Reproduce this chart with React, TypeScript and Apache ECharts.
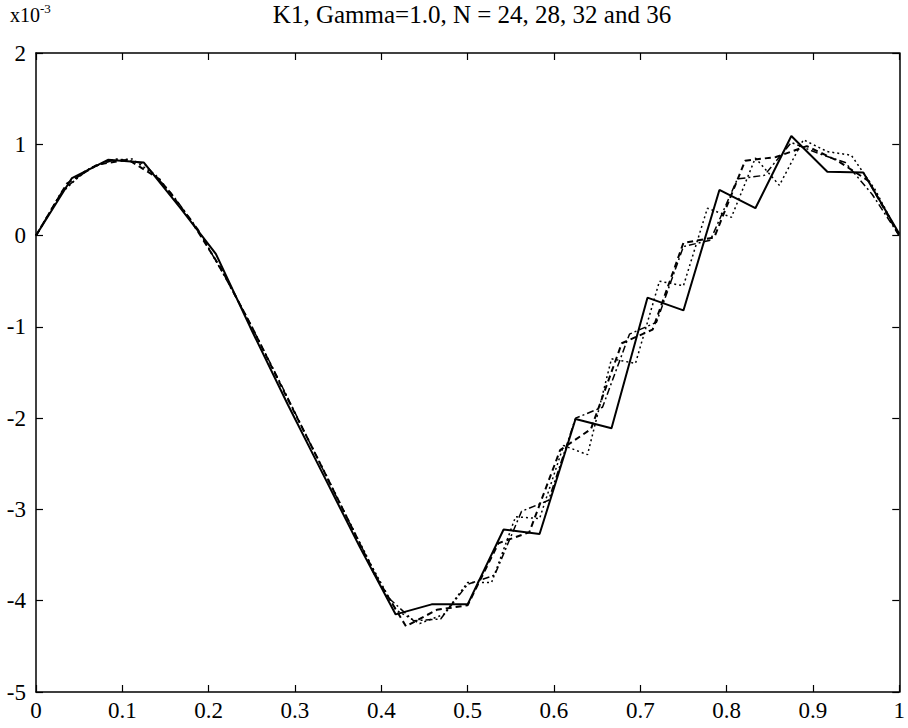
import React, { useEffect, useRef } from "react";
import * as echarts from "echarts";

// Title and exponent label
const titleText = "K1, Gamma=1.0, N = 24, 28, 32 and 36";
const exponentBase = "x10";
const exponentPower = "-3";

// Axis ranges / ticks (values in units of 1e-3)
const xMin = 0;
const xMax = 1;
const xStep = 0.1;
const yMin = -5;
const yMax = 2;
const yStep = 1;

// Number of sample points per series
const nValues = [24, 28, 32, 36];

// Solid line, N = 24 (values at k/24)
const solidN24 = [
  0, 0.63, 0.83, 0.8, 0.31, -0.2, -1.04, -1.85, -2.63, -3.41, -4.15, -4.04,
  -4.04, -3.22, -3.27, -2.01, -2.11, -0.68, -0.82, 0.5, 0.3, 1.09, 0.7, 0.69,
  0.02,
];

// Dashed line, N = 28 (values at k/28)
const dashedN28 = [
  0, 0.57, 0.78, 0.83, 0.62, 0.18, -0.36, -1.0, -1.68, -2.35, -3.03, -3.72,
  -4.28, -4.1, -4.05, -3.37, -3.25, -2.35, -2.12, -1.18, -1.03, -0.08, -0.02,
  0.82, 0.86, 0.98, 0.82, 0.6, 0,
];

// Dash-dot line, N = 32 (values at k/32)
const dashDotN32 = [
  0, 0.5, 0.74, 0.84, 0.79, 0.47, 0.07, -0.45, -1.0, -1.58, -2.18, -2.78,
  -3.37, -3.95, -4.22, -4.2, -3.82, -3.72, -3.02, -2.9, -2.0, -1.88, -1.08,
  -0.95, -0.12, -0.05, 0.62, 0.66, 1.02, 0.9, 0.8, 0.45, 0,
];

// Dotted line, N = 36 (values at k/36)
const dottedN36 = [
  0, 0.45, 0.7, 0.82, 0.84, 0.66, 0.33, -0.05, -0.5, -1.0, -1.52, -2.05,
  -2.57, -3.1, -3.62, -4.1, -4.25, -4.15, -3.8, -3.8, -3.08, -3.1, -2.3, -2.4,
  -1.35, -1.4, -0.5, -0.55, 0.3, 0.2, 0.85, 0.55, 1.05, 0.92, 0.88, 0.5, 0,
];

const toPairs = (vals: number[], n: number) =>
  vals.map((v, k) => [k / n, v]);

const FONT = "'Liberation Serif', 'DejaVu Serif', serif";

export default function App() {
  const ref = useRef<HTMLDivElement>(null);

  useEffect(() => {
    if (!ref.current) return;
    const chart = echarts.init(ref.current, undefined, { renderer: "svg" });

    const left = 36;
    const right = 4;
    const top = 53;
    const bottom = 36;

    const axisLineStyle = { color: "#000", width: 1.5 };
    const tickStyle = { color: "#000", width: 1.2 };

    const lineSeries = (
      name: string,
      data: number[][],
      type: any,
      width: number
    ) => ({
      name,
      type: "line",
      data,
      xAxisIndex: 0,
      yAxisIndex: 0,
      showSymbol: false,
      symbol: "none",
      lineStyle: { color: "#000", width, type },
      z: 3,
    });

    const axisLine = { show: true, onZero: false, lineStyle: axisLineStyle };
    const axisTick = { show: true, inside: true, length: 7, lineStyle: tickStyle };

    chart.setOption({
      animation: false,
      backgroundColor: "#fff",
      grid: { left, right, top, bottom, show: false },
      xAxis: [
        {
          type: "value",
          min: xMin,
          max: xMax,
          interval: xStep,
          position: "bottom",
          axisLine,
          axisTick,
          splitLine: { show: false },
          axisLabel: {
            color: "#000",
            fontFamily: FONT,
            fontSize: 23,
            margin: 7,
            formatter: (v: number) => String(Math.round(v * 10) / 10),
          },
        },
        {
          type: "value",
          min: xMin,
          max: xMax,
          interval: xStep,
          position: "top",
          axisLine,
          axisTick,
          splitLine: { show: false },
          axisLabel: { show: false },
        },
      ],
      yAxis: [
        {
          type: "value",
          min: yMin,
          max: yMax,
          interval: yStep,
          position: "left",
          axisLine,
          axisTick,
          splitLine: { show: false },
          axisLabel: {
            color: "#000",
            fontFamily: FONT,
            fontSize: 23,
            margin: 10,
          },
        },
        {
          type: "value",
          min: yMin,
          max: yMax,
          interval: yStep,
          position: "right",
          axisLine,
          axisTick,
          splitLine: { show: false },
          axisLabel: { show: false },
        },
      ],
      graphic: [
        {
          type: "text",
          x: 472,
          y: 2,
          style: {
            text: titleText,
            fill: "#000",
            font: `25px ${FONT}`,
            textAlign: "center",
            textVerticalAlign: "top",
          },
        },
        {
          type: "text",
          x: 10,
          y: 5,
          style: {
            text: exponentBase,
            fill: "#000",
            font: `20px ${FONT}`,
          },
        },
        {
          type: "text",
          x: 40,
          y: 2,
          style: {
            text: exponentPower,
            fill: "#000",
            font: `13px ${FONT}`,
          },
        },
      ],
      series: [
        lineSeries("N=" + nValues[0], toPairs(solidN24, nValues[0]), "solid", 2),
        lineSeries("N=" + nValues[1], toPairs(dashedN28, nValues[1]), [6, 4], 2),
        lineSeries("N=" + nValues[2], toPairs(dashDotN32, nValues[2]), [7, 3, 2, 3], 1.5),
        lineSeries("N=" + nValues[3], toPairs(dottedN36, nValues[3]), [2, 3], 1.5),
      ],
    });

    return () => chart.dispose();
  }, []);

  return (
    <div
      ref={ref}
      style={{ position: "fixed", left: 0, top: 0, width: 908, height: 728 }}
    />
  );
}
